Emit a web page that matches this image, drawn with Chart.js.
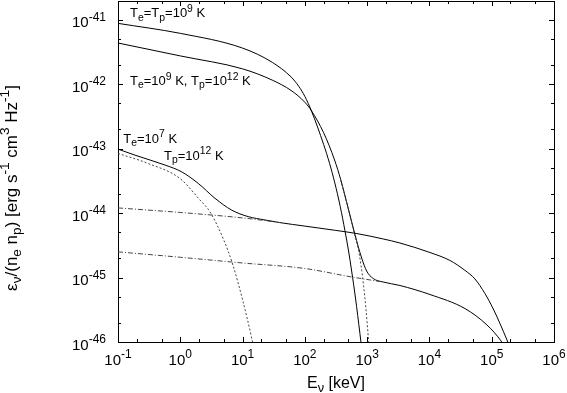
<!DOCTYPE html>
<html>
<head>
<meta charset="utf-8">
<script src="https://cdn.jsdelivr.net/npm/chart.js@4.4.0/dist/chart.umd.min.js"></script>
<style>
html,body{margin:0;padding:0;background:#fff;}
#wrap{position:relative;width:567px;height:393px;}
</style>
</head>
<body>
<div id="wrap"><canvas id="c"></canvas></div>
<script>
// ---------- axis ranges & ticks ----------
const X_MIN = 0.1, X_MAX = 1e6;
const Y_MIN = 1e-46, Y_MAX = 1.94e-41;
const X_TICK_EXP = [-1, 0, 1, 2, 3, 4, 5, 6];
const Y_TICK_EXP = [-46, -45, -44, -43, -42, -41];
const MINOR_MULT = [2, 5];

// ---------- curve labels ----------
const CURVE_LABELS = ['T_e=T_p=10^9 K', 'T_e=10^9 K, T_p=10^{12} K', 'T_e=10^7 K', 'T_p=10^{12} K'];
const X_TITLE = 'E_ν [keV]';
const Y_TITLE = 'ε_ν/(n_e n_p) [erg s^{-1} cm^3 Hz^{-1}]';

// ---------- data: photon energy (keV) and emissivity ----------
// Te = Tp = 1e9 K (solid)
const E_A = [0.1, 1, 10, 30, 60, 80, 100, 128, 200, 250, 300, 370, 440, 500, 564, 650, 766, 820];
const V_A = [8.73e-42, 6.11e-42, 3.61e-42, 2.17e-42, 1.29e-42, 9.2e-43, 6.43e-43, 3.8e-43, 1.16e-43, 5.83e-44, 3.03e-44, 1.26e-44, 5.33e-45, 2.67e-45, 1.26e-45, 4.8e-46, 1.35e-46, 7.8e-47];
// Te = 1e9 K, Tp = 1e12 K (solid)
const E_B = [0.1, 1, 10, 30, 60, 100, 128, 200, 300, 376, 500, 637, 817, 982, 1253, 1811, 3360, 1.02e4, 3.72e4, 8.37e4, 1.41e5, 1.69e5];
const V_B = [4.33e-42, 2.73e-42, 1.72e-42, 1.15e-42, 7.96e-43, 5.22e-43, 3.83e-43, 1.76e-43, 6.64e-44, 3.31e-44, 1.16e-44, 4.65e-45, 2.0e-45, 1.26e-45, 9.63e-46, 8.51e-46, 7.52e-46, 5.45e-46, 3.3e-46, 1.84e-46, 1.04e-46, 7.8e-47];
// Te = 1e7 K, Tp = 1e12 K (solid)
const E_C = [0.1, 0.187, 0.567, 1.05, 1.94, 3.61, 6.68, 12.3, 22.9, 39.8, 100, 300, 686, 1811, 3360, 1.02e4, 2.13e4, 3.72e4, 5.37e4, 7.78e4, 1.06e5, 1.355e5, 1.735e5, 2.11e5];
const V_C = [9.8e-44, 7.9e-44, 5.55e-44, 4.36e-44, 2.88e-44, 1.69e-44, 1.11e-44, 8.8e-45, 7.8e-45, 7.1e-45, 6.27e-45, 5.41e-45, 4.8e-45, 3.96e-45, 3.43e-45, 2.44e-45, 1.84e-45, 1.29e-45, 9.5e-46, 5.65e-46, 3.25e-46, 1.94e-46, 1.11e-46, 7.0e-47];
// proton components (dash-dot)
const E_D1 = [0.1, 1, 10, 20, 39.8];
const V_D1 = [1.2e-44, 1.02e-44, 8.4e-45, 7.75e-45, 7.1e-45];
const E_D2 = [0.1, 1, 10, 100, 530, 1811];
const V_D2 = [2.5e-45, 2.06e-45, 1.68e-45, 1.38e-45, 1.03e-45, 8.51e-46];
// electron components (dotted)
const E_T1 = [0.1, 0.3, 1, 2, 3, 5, 7, 10, 14, 16];
const V_T1 = [8.4e-44, 5.9e-44, 3.4e-44, 1.65e-44, 1.04e-44, 3.8e-45, 1.56e-45, 4.5e-46, 1.15e-46, 6e-47];
const E_T2 = [376, 500, 637, 720, 800, 880, 960, 1040, 1100];
const V_T2 = [3.25e-44, 1.13e-44, 4.4e-45, 2.77e-45, 1.51e-45, 7.2e-46, 3.15e-46, 1.24e-46, 6.2e-47];

const pts = (xs, ys) => xs.map((x, i) => ({x: x, y: ys[i]}));

const FONT = '"Liberation Sans", Arial, Helvetica, sans-serif';

function parseRich(str) {
  const out = []; let i = 0, buf = '';
  while (i < str.length) {
    const c = str[i];
    if (c === '_' || c === '^') {
      if (buf) { out.push([buf, '']); buf = ''; }
      i++;
      let t;
      if (str[i] === '{') { const j = str.indexOf('}', i); t = str.slice(i + 1, j); i = j + 1; }
      else { t = str[i]; i++; }
      out.push([t, c]);
    } else { buf += c; i++; }
  }
  if (buf) out.push([buf, '']);
  return out;
}

function drawRich(ctx, str, x, y, size, align) {
  const segs = parseRich(str);
  let w = 0;
  const parts = segs.map(s => {
    const fs = s[1] ? size * 0.8 : size;
    ctx.font = fs + 'px ' + FONT;
    const mw = ctx.measureText(s[0]).width;
    w += mw;
    return {t: s[0], m: s[1], fs: fs, mw: mw};
  });
  let cx = align === 'center' ? x - w / 2 : (align === 'right' ? x - w : x);
  ctx.textAlign = 'left';
  ctx.textBaseline = 'alphabetic';
  for (const p of parts) {
    ctx.font = p.fs + 'px ' + FONT;
    const dy = p.m === '^' ? -size * 0.43 : (p.m === '_' ? size * 0.25 : 0);
    ctx.fillText(p.t, cx, y + dy);
    cx += p.mw;
  }
}

const decor = {
  id: 'decor',
  afterDatasetsDraw(chart) {
    const ctx = chart.ctx;
    const xs = chart.scales.x, ys = chart.scales.y;
    const a = chart.chartArea;
    ctx.save();
    ctx.strokeStyle = '#000';
    ctx.lineWidth = 1;
    ctx.beginPath();
    for (const e of X_TICK_EXP) {
      for (const m of [1].concat(MINOR_MULT)) {
        const v = m * Math.pow(10, e);
        if (v < X_MIN * 0.999 || v > X_MAX * 1.001) continue;
        const px = Math.round(xs.getPixelForValue(v)) + 0.5;
        const L = m === 1 ? 5 : 3;
        ctx.moveTo(px, a.bottom); ctx.lineTo(px, a.bottom - L);
        ctx.moveTo(px, a.top); ctx.lineTo(px, a.top + L);
      }
    }
    for (const e of Y_TICK_EXP) {
      for (const m of [1].concat(MINOR_MULT)) {
        const v = m * Math.pow(10, e);
        if (v < Y_MIN * 0.999 || v > Y_MAX * 1.001) continue;
        const py = Math.round(ys.getPixelForValue(v)) + 0.5;
        const L = m === 1 ? 5 : 3;
        ctx.moveTo(a.left, py); ctx.lineTo(a.left + L, py);
        ctx.moveTo(a.right, py); ctx.lineTo(a.right - L, py);
      }
    }
    ctx.stroke();
    ctx.restore();
  },
  afterDraw(chart) {
    const ctx = chart.ctx;
    const xs = chart.scales.x, ys = chart.scales.y;
    const a = chart.chartArea;
    ctx.save();
    ctx.fillStyle = '#000';
    for (const e of X_TICK_EXP) {
      const px = xs.getPixelForValue(Math.pow(10, e));
      drawRich(ctx, '10^{' + e + '}', px, a.bottom + 22.5, 15, 'center');
    }
    for (const e of Y_TICK_EXP) {
      const py = ys.getPixelForValue(Math.pow(10, e));
      drawRich(ctx, '10^{' + e + '}', a.left - 12, py + 7.8, 15, 'right');
    }
    const lab = [[0.156, 1.08e-41], [0.156, 9.6e-43], [0.1216, 1.24e-43], [0.547, 6.64e-44]];
    CURVE_LABELS.forEach((t, i) => {
      drawRich(ctx, t, xs.getPixelForValue(lab[i][0]), ys.getPixelForValue(lab[i][1]), 13, 'left');
    });
    drawRich(ctx, X_TITLE, (a.left + a.right) / 2, 388, 16, 'center');
    ctx.translate(16.5, 188);
    ctx.rotate(-Math.PI / 2);
    drawRich(ctx, Y_TITLE, 0, 0, 17, 'center');
    ctx.restore();
  }
};

const solid = {borderColor: '#000', borderWidth: 1, pointRadius: 0, showLine: true, cubicInterpolationMode: 'monotone', fill: false};
const dashdot = Object.assign({}, solid, {borderColor: '#444', borderDash: [5, 2, 1, 2]});
const dotted = Object.assign({}, solid, {borderColor: '#444', borderDash: [2, 2]});

const hiddenAxis = (pos) => ({
  type: 'linear', position: pos, min: 0, max: 1,
  ticks: {display: false}, grid: {display: false, drawTicks: false},
  border: {display: true, color: '#000', width: 1}, title: {display: false}
});

new Chart(document.getElementById('c'), {
  type: 'scatter',
  data: {
    datasets: [
      Object.assign({label: 'D1', data: pts(E_D1, V_D1)}, dashdot),
      Object.assign({label: 'D2', data: pts(E_D2, V_D2)}, dashdot),
      Object.assign({label: 'T1', data: pts(E_T1, V_T1)}, dotted),
      Object.assign({label: 'T2', data: pts(E_T2, V_T2)}, dotted),
      Object.assign({label: 'A', data: pts(E_A, V_A)}, solid),
      Object.assign({label: 'B', data: pts(E_B, V_B)}, solid),
      Object.assign({label: 'C', data: pts(E_C, V_C)}, solid)
    ]
  },
  options: {
    responsive: true,
    maintainAspectRatio: false,
    animation: false,
    devicePixelRatio: 1,
    layout: {padding: {left: 118, right: 13, top: 1, bottom: 51}},
    plugins: {legend: {display: false}, tooltip: {enabled: false}},
    scales: {
      x: {
        type: 'logarithmic', position: 'bottom', min: X_MIN, max: X_MAX,
        ticks: {display: false}, grid: {display: false, drawTicks: false},
        border: {display: true, color: '#000', width: 1}, title: {display: false}
      },
      y: {
        type: 'logarithmic', position: 'left', min: Y_MIN, max: Y_MAX,
        ticks: {display: false}, grid: {display: false, drawTicks: false},
        border: {display: true, color: '#000', width: 1}, title: {display: false}
      },
      x2: hiddenAxis('top'),
      y2: hiddenAxis('right')
    }
  },
  plugins: [decor]
});
</script>
</body>
</html>
